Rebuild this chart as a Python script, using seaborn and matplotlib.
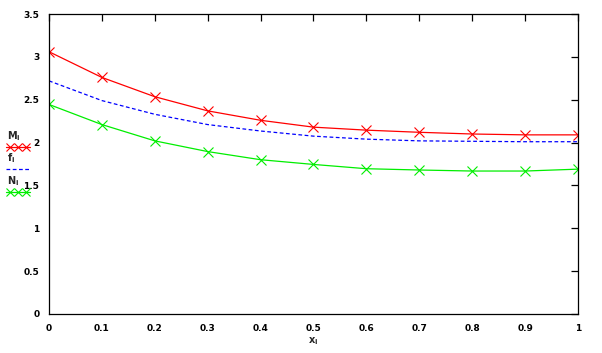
import numpy as np
import pandas as pd
import matplotlib
matplotlib.use("Agg")
import matplotlib.pyplot as plt
from matplotlib.lines import Line2D
import seaborn as sns

# data
x_vals = [0.0, 0.1, 0.2, 0.3, 0.4, 0.5, 0.6, 0.7, 0.8, 0.9, 1.0]
m_vals = [3.06, 2.76, 2.535, 2.37, 2.26, 2.18, 2.145, 2.12, 2.10, 2.09, 2.09]
f_vals = [2.72, 2.49, 2.33, 2.21, 2.135, 2.075, 2.04, 2.02, 2.015, 2.01, 2.01]
n_vals = [2.445, 2.21, 2.02, 1.895, 1.80, 1.745, 1.695, 1.68, 1.668, 1.668, 1.69]

x_ticks = [0, 0.1, 0.2, 0.3, 0.4, 0.5, 0.6, 0.7, 0.8, 0.9, 1]
x_tick_labels = ["0", "0.1", "0.2", "0.3", "0.4", "0.5", "0.6", "0.7", "0.8", "0.9", "1"]
y_ticks = [0, 0.5, 1, 1.5, 2, 2.5, 3, 3.5]
y_tick_labels = ["0", "0.5", "1", "1.5", "2", "2.5", "3", "3.5"]

df = pd.DataFrame({"x": x_vals, "M": m_vals, "f": f_vals, "N": n_vals})

sns.set_style("white")
plt.rcParams["font.family"] = ["DejaVu Sans"]

fig = plt.figure(figsize=(6.02, 3.53), dpi=100)
ax = fig.add_axes([0.0814, 0.1105, 0.8787, 0.8498])

sns.lineplot(data=df, x="x", y="M", ax=ax, color="red", lw=0.9,
             marker="x", markersize=7, markeredgewidth=0.8, markeredgecolor="red")
sns.lineplot(data=df, x="x", y="f", ax=ax, color="blue", lw=0.9,
             dashes=False, linestyle=(0, (3, 2)))
sns.lineplot(data=df, x="x", y="N", ax=ax, color="#00ee00", lw=0.9,
             marker="x", markersize=7, markeredgewidth=0.8, markeredgecolor="#00ee00")

ax.set_xlim(0, 1)
ax.set_ylim(0, 3.5)
ax.set_xticks(x_ticks)
ax.set_xticklabels(x_tick_labels)
ax.set_yticks(y_ticks)
ax.set_yticklabels(y_tick_labels)
ax.tick_params(direction="in", length=5, width=0.9, top=True, right=True,
               labelsize=6.5, pad=7, colors="black")
for lab in ax.get_xticklabels() + ax.get_yticklabels():
    lab.set_fontweight("bold")
for sp in ax.spines.values():
    sp.set_color("black")
    sp.set_linewidth(0.9)
ax.set_ylabel("")
ax.set_xlabel("$\\mathbf{x}_\\mathbf{i}$", fontsize=7, labelpad=2)

# legend drawn to the left of the axes, label above handle
W, H = 602, 353
entries = [
    ("$\\mathbf{M}_\\mathbf{i}$", "red", "-", "x", 136),
    ("$\\mathbf{f}_\\mathbf{i}$", "blue", (0, (3, 2)), None, 158),
    ("$\\mathbf{N}_\\mathbf{i}$", "#00ee00", "-", "x", 181),
]
for label, col, ls, mk, ypx in entries:
    fig.text(7 / W, 1 - ypx / H, label, fontsize=7, va="center", ha="left")
    yl = 1 - (ypx + 11) / H
    fig.add_artist(Line2D([6 / W, 30 / W], [yl, yl], color=col, lw=0.9,
                          linestyle=ls, transform=fig.transFigure))
    if mk:
        fig.add_artist(Line2D([10 / W, 18 / W, 26 / W], [yl] * 3, color=col,
                              lw=0, marker=mk, markersize=6, markeredgewidth=0.8,
                              transform=fig.transFigure))

fig.savefig("out.png", dpi=100)
